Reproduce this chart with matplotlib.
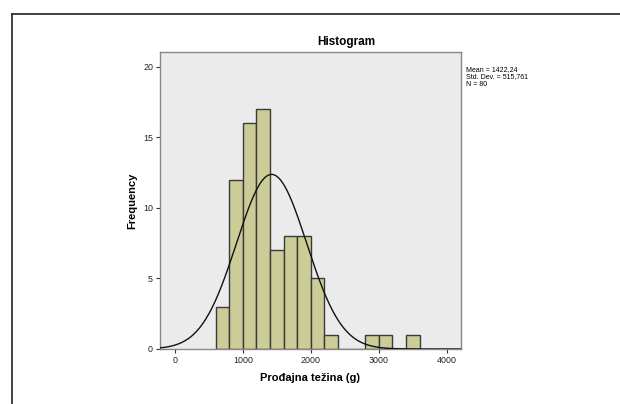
import numpy as np
import matplotlib
matplotlib.use('Agg')
import matplotlib.pyplot as plt
from matplotlib.lines import Line2D

plt.rcParams['font.family'] = ['Liberation Sans', 'DejaVu Sans']

# histogram bins (g) and counts
bin_edges = [600, 800, 1000, 1200, 1400, 1600, 1800, 2000, 2200, 2400,
             2600, 2800, 3000, 3200, 3400, 3600]
counts = [3, 12, 16, 17, 7, 8, 8, 5, 1, 0, 0, 1, 1, 0, 1]
mean = 1422.24
std = 515.761
n = 80
x_ticks = [0, 1000, 2000, 3000, 4000]
y_ticks = [0, 5, 10, 15, 20]

fig = plt.figure(figsize=(6.2, 4.04), dpi=100)
W, H = 620, 404
ax = fig.add_axes([160 / W, 1 - 349 / H, (461 - 160) / W, (349 - 52) / H])
ax.set_facecolor('#ebebeb')

widths = np.diff(bin_edges)
ax.bar(bin_edges[:-1], counts, width=widths, align='edge',
       color='#cccc99', edgecolor='#3a3a3a', linewidth=1.0, zorder=2)

# normal curve scaled to counts
bw = bin_edges[1] - bin_edges[0]
xs = np.linspace(-220, 4210, 400)
ys = n * bw / (std * np.sqrt(2 * np.pi)) * np.exp(-0.5 * ((xs - mean) / std) ** 2)
ax.plot(xs, ys, color='#111111', linewidth=1.0, zorder=3)

ax.set_xlim(-220, 4210)
ax.set_ylim(0, 21.05)
ax.set_xticks(x_ticks)
ax.set_yticks(y_ticks)
ax.tick_params(axis='both', labelsize=6.4, length=3, width=0.8, color='#333333',
               labelcolor='#222222', pad=2)
for s in ax.spines.values():
    s.set_color('#888888')
    s.set_linewidth(1.0)

fig.text(346 / W, 1 - 42 / H, 'Histogram', fontsize=8.5, fontweight='bold',
         ha='center', va='center')
ax.set_xlabel('Prođajna težina (g)', fontsize=8, fontweight='bold', labelpad=6)
ax.set_ylabel('Frequency', fontsize=8, fontweight='bold', labelpad=4)

fig.text(466 / W, 1 - 66 / H,
         'Mean = 1422,24\nStd. Dev. = 515,761\nN = 80',
         fontsize=5.0, va='top', ha='left', linespacing=1.05)

# outer frame
fig.add_artist(Line2D([12 / W, 1.0], [1 - 14 / H, 1 - 14 / H],
                      transform=fig.transFigure, color='#222222', linewidth=1.2))
fig.add_artist(Line2D([12 / W, 12 / W], [1 - 14 / H, 0.0],
                      transform=fig.transFigure, color='#222222', linewidth=1.2))

fig.savefig('out.png', dpi=100)
